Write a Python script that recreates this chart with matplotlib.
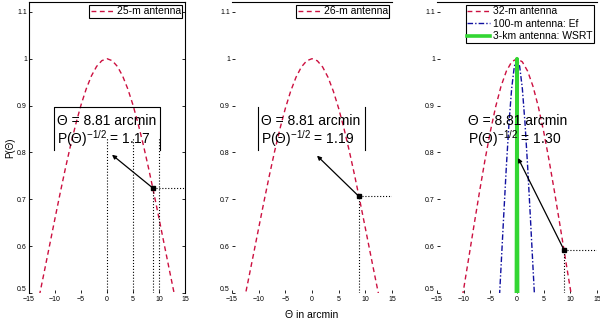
import matplotlib.pyplot as plt

plt.rcParams['font.family'] = ['Liberation Sans', 'DejaVu Sans']
plt.rcParams['mathtext.fontset'] = 'custom'
plt.rcParams['mathtext.rm'] = 'Liberation Sans'
plt.rcParams['mathtext.it'] = 'Liberation Sans'

# beam curves (theta in arcmin, P(theta))
theta_a = [-13, -12, -11, -10, -9, -8, -7, -6, -5, -4, -3, -2, -1, 0,
           1, 2, 3, 4, 5, 6, 7, 8, 9, 10, 11, 12, 13]
p_25m = [0.4946, 0.5489, 0.6040, 0.6593, 0.7136, 0.7660, 0.8154, 0.8607, 0.9011,
         0.9355, 0.9632, 0.9835, 0.9958, 1.0, 0.9958, 0.9835, 0.9632, 0.9355,
         0.9011, 0.8607, 0.8154, 0.7660, 0.7136, 0.6593, 0.6040, 0.5489, 0.4946]
p_26m = [0.4685, 0.5242, 0.5811, 0.6385, 0.6954, 0.7505, 0.8027, 0.8509, 0.8939,
         0.9307, 0.9604, 0.9822, 0.9955, 1.0, 0.9955, 0.9822, 0.9604, 0.9307,
         0.8939, 0.8509, 0.8027, 0.7505, 0.6954, 0.6385, 0.5811, 0.5242, 0.4685]
theta_b = [-11, -10, -9, -8, -7, -6, -5, -4, -3, -2, -1, 0,
           1, 2, 3, 4, 5, 6, 7, 8, 9, 10, 11]
p_32m = [0.4412, 0.5086, 0.5783, 0.6488, 0.7180, 0.7840, 0.8445, 0.8975, 0.9410,
         0.9733, 0.9933, 1.0, 0.9933, 0.9733, 0.9410, 0.8975, 0.8445, 0.7840,
         0.7180, 0.6488, 0.5783, 0.5086, 0.4412]
theta_c = [-3.5, -3.0, -2.5, -2.0, -1.5, -1.0, -0.5, 0, 0.5, 1.0, 1.5, 2.0, 2.5, 3.0, 3.5]
p_100m = [0.4476, 0.5540, 0.6635, 0.7691, 0.8627, 0.9365, 0.9837, 1.0,
          0.9837, 0.9365, 0.8627, 0.7691, 0.6635, 0.5540, 0.4476]
theta_d = [-0.2, -0.1, 0, 0.1, 0.2]
p_wsrt = [0.10, 0.56, 1.0, 0.56, 0.10]

theta_src = 8.81
p_src = [0.724, 0.706, 0.592]
corr_txt = ['1.17', '1.19', '1.30']
arrow_head = [(0.96, 0.795), (0.94, 0.793), (0.2, 0.788)]

xticks = [-15, -10, -5, 0, 5, 10, 15]
yticks = [0.5, 0.6, 0.7, 0.8, 0.9, 1.0, 1.1]
yticklabels = ['0.5', '0.6', '0.7', '0.8', '0.9', '1', '1.1']

red = '#cc1040'
blue = '#1010a0'
green = '#33d633'

fig = plt.figure(figsize=(6, 3.23), dpi=100)
bottom, height = 30 / 323, 291 / 323
ax1 = fig.add_axes([29 / 600, bottom, 156 / 600, height])
ax2 = fig.add_axes([232 / 600, bottom, 160 / 600, height])
ax3 = fig.add_axes([437 / 600, bottom, 160 / 600, height])
axes = [ax1, ax2, ax3]

ax1.plot(theta_a, p_25m, '--', color=red, lw=1.0, dashes=(3.5, 2.5), label='25-m antenna')
ax2.plot(theta_a, p_26m, '--', color=red, lw=1.0, dashes=(3.5, 2.5), label='26-m antenna')
ax3.plot(theta_b, p_32m, '--', color=red, lw=1.0, dashes=(3.5, 2.5), label='32-m antenna')
ax3.plot(theta_c, p_100m, '-.', color=blue, lw=1.0, dashes=(4, 1.5, 1, 1.5),
         label='100-m antenna: Ef')
ax3.plot(theta_d, p_wsrt, '-', color=green, lw=2.6, label='3-km antenna: WSRT')

# dotted guide lines in first panel
for xv in [0, 5, 10]:
    ax1.plot([xv, xv], [0.5, 0.833], ':', color='k', lw=0.8)

for i, ax in enumerate(axes):
    ax.set_xlim(-15, 15)
    ax.set_ylim(0.5, 1.121)
    ax.plot([theta_src, theta_src], [0.5, p_src[i]], ':', color='k', lw=0.8)
    ax.plot([theta_src, 15], [p_src[i], p_src[i]], ':', color='k', lw=0.8)
    ax.plot([theta_src], [p_src[i]], 's', color='k', ms=3.2)
    ax.annotate('', xy=arrow_head[i], xytext=(theta_src, p_src[i]),
                arrowprops=dict(arrowstyle='-|>', color='k', lw=0.9,
                                mutation_scale=6, shrinkA=0, shrinkB=0))
    ax.set_xticks(xticks)
    ax.set_yticks(yticks)
    ax.set_yticklabels(yticklabels)
    ax.tick_params(direction='in', length=2.2, width=0.6, labelsize=5, pad=1.5)
    ax.tick_params(axis='x', pad=2.5)
    ax.get_yticklabels()[0].set_va('bottom')
    for s in ['left', 'right', 'bottom', 'top']:
        ax.spines[s].set_visible(False)
    ax.spines['top'].set_visible(True)
    ax.spines['top'].set_linewidth(0.8)
    leg = ax.legend(loc='upper right', fontsize=7.5, handlelength=2.2,
                    handletextpad=0.3, borderpad=0.15, labelspacing=0.25,
                    borderaxespad=0.25, fancybox=False, framealpha=1)
    leg.get_frame().set_edgecolor('k')
    leg.get_frame().set_linewidth(0.8)

ax1.spines['left'].set_visible(True)
ax1.spines['right'].set_visible(True)
ax1.tick_params(right=True)

# annotation texts
txt_x = [-9.6, -9.6, -9.2]
for i, ax in enumerate(axes):
    ax.text(txt_x[i], 0.867, 'Θ = 8.81 arcmin', fontsize=10, va='center', ha='left')
    ax.text(txt_x[i], 0.829, r'P(Θ)$^{-1/2}$ = ' + corr_txt[i], fontsize=10,
            va='center', ha='left')

# box outlines around the texts
ax1.plot([-10.2, -10.2, 10.2, 10.2], [0.806, 0.897, 0.897, 0.806], '-', color='k', lw=0.8)
ax2.plot([-10.1, -10.1], [0.806, 0.897], '-', color='k', lw=0.8)
ax2.plot([9.9, 9.9], [0.806, 0.897], '-', color='k', lw=0.8)

ax1.set_ylabel('P(Θ)', fontsize=7, labelpad=1)
fig.text(312 / 600, 1 - 315 / 323, 'Θ in arcmin', fontsize=7.5, ha='center', va='center')

fig.savefig('out.png', dpi=100)
